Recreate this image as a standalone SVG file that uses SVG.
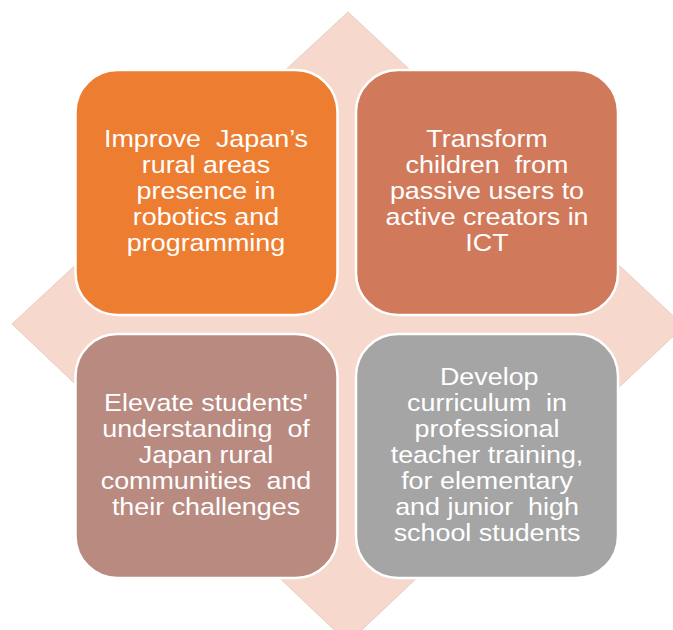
<svg xmlns="http://www.w3.org/2000/svg" width="673" height="630" viewBox="0 0 673 630">
<style>
.box{stroke:#ffffff;stroke-width:2.5}
.t{font-family:"Liberation Sans",Arial,sans-serif;font-size:24px;fill:#ffffff;text-anchor:middle;white-space:pre}
</style>
<rect width="673" height="630" fill="#ffffff"/>
<polygon id="diamond" points="348,12 684,326 348,643 12,324" fill="#F7D8CD" stroke="#e0c6bd" stroke-width="0.8"/>
<g id="connectors"></g>
<g id="node1">
<rect class="box" x="75.5" y="70" width="262" height="245" rx="42" fill="#ED7D31"/>
<g transform="translate(206,0) scale(1.12,1)">
<text class="t" xml:space="preserve"><tspan x="0" y="147.5">Improve  Japan’s</tspan><tspan x="0" y="173.5">rural areas</tspan><tspan x="0" y="199.5">presence in</tspan><tspan x="0" y="225.5">robotics and</tspan><tspan x="0" y="251.5">programming</tspan></text>
</g>
</g>
<g id="node2">
<rect class="box" x="356" y="70" width="262" height="245" rx="42" fill="#D17A5B"/>
<g transform="translate(487,0) scale(1.12,1)">
<text class="t" xml:space="preserve"><tspan x="0" y="147.5">Transform</tspan><tspan x="0" y="173.5">children  from</tspan><tspan x="0" y="199.5">passive users to</tspan><tspan x="0" y="225.5">active creators in</tspan><tspan x="0" y="251.5">ICT</tspan></text>
</g>
</g>
<g id="node3">
<rect class="box" x="75.5" y="334" width="262" height="244" rx="42" fill="#B88A80"/>
<g transform="translate(206,0) scale(1.12,1)">
<text class="t" xml:space="preserve"><tspan x="0" y="411">Elevate students'</tspan><tspan x="0" y="437">understanding  of</tspan><tspan x="0" y="463">Japan rural</tspan><tspan x="0" y="489">communities  and</tspan><tspan x="0" y="515">their challenges</tspan></text>
</g>
</g>
<g id="node4">
<rect class="box" x="356" y="334" width="262" height="244" rx="42" fill="#A5A5A5"/>
<g transform="translate(487,0) scale(1.12,1)">
<text class="t" xml:space="preserve"><tspan x="2" y="385">Develop</tspan><tspan x="0" y="411">curriculum  in</tspan><tspan x="0" y="437">professional</tspan><tspan x="0" y="463">teacher training,</tspan><tspan x="0" y="489">for elementary</tspan><tspan x="0" y="515">and junior  high</tspan><tspan x="0" y="541">school students</tspan></text>
</g>
</g>
</svg>
